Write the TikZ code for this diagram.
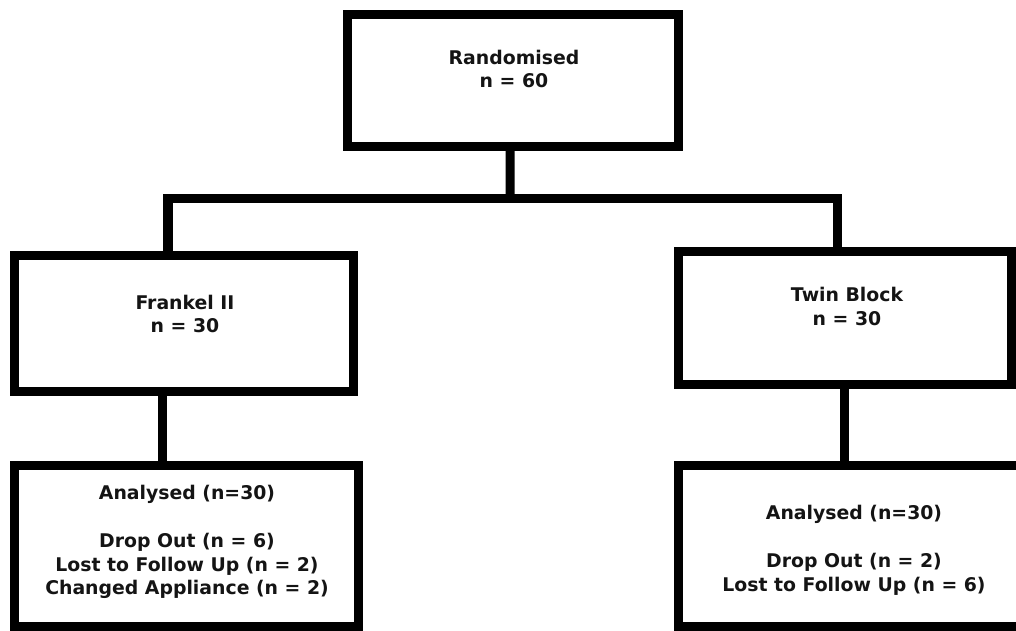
\documentclass[tikz,border=0pt]{standalone}
\usepackage{fontspec}
\setmainfont{DejaVu Sans}
\begin{document}
\begin{tikzpicture}[x=0.025cm,y=-0.025cm,
  box/.style={draw=black, line width=0.225cm, fill=none, rectangle, inner sep=0pt, outer sep=0pt},
  conn/.style={draw=black, line width=0.225cm, line join=miter},
  txt/.style={align=center, inner sep=0pt, font=\fontsize{13.4pt}{17pt}\selectfont\bfseries, text=black!92}
]
\useasboundingbox (0,0) rectangle (1016,630);
\fill[white] (0,0) rectangle (1016,630);
\clip (0,0) rectangle (1016,630);

% boxes
\node[box, minimum width=8.275cm, minimum height=3.2875cm] (top) at (513,80.25) {};
\node[box, minimum width=8.475cm, minimum height=3.3875cm] (fr) at (184,323.75) {};
\node[box, minimum width=8.325cm, minimum height=3.3125cm] (tw) at (845,318.25) {};
\node[box, minimum width=8.6cm, minimum height=4.025cm] (la) at (186.5,546) {};
\node[box, minimum width=8.7875cm, minimum height=4.025cm] (ra) at (854.25,546) {};

% texts
\node[txt] (ttop) at (514,69) {Randomised\\n = 60};
\node[txt] (tfr) at (185,314) {Frankel II\\n = 30};
\node[txt] (ttw) at (847,306.5) {Twin Block\\n = 30};
\node[txt] (tla) at (187,542) {Analysed (n=30)\\[17pt]Drop Out (n = 6)\\Lost to Follow Up (n = 2)\\Changed Appliance (n = 2)};
\node[txt] (tra) at (854,550.5) {Analysed (n=30)\\[17pt]Drop Out (n = 2)\\Lost to Follow Up (n = 6)};

% connectors
\coordinate (j) at (510,198.5);
\draw[conn] ([xshift=-0.075cm]top.south) -- (j);
\draw[conn] ([xshift=-0.4cm]fr.north) |- (j) -| ([xshift=-0.1875cm]tw.north);
\draw[conn] ([xshift=-0.525cm]fr.south) -- ([xshift=-0.525cm]fr.south |- la.north);
\draw[conn] ([xshift=-0.025cm]tw.south) -- ([xshift=-0.025cm]tw.south |- ra.north);
\end{tikzpicture}
\end{document}
